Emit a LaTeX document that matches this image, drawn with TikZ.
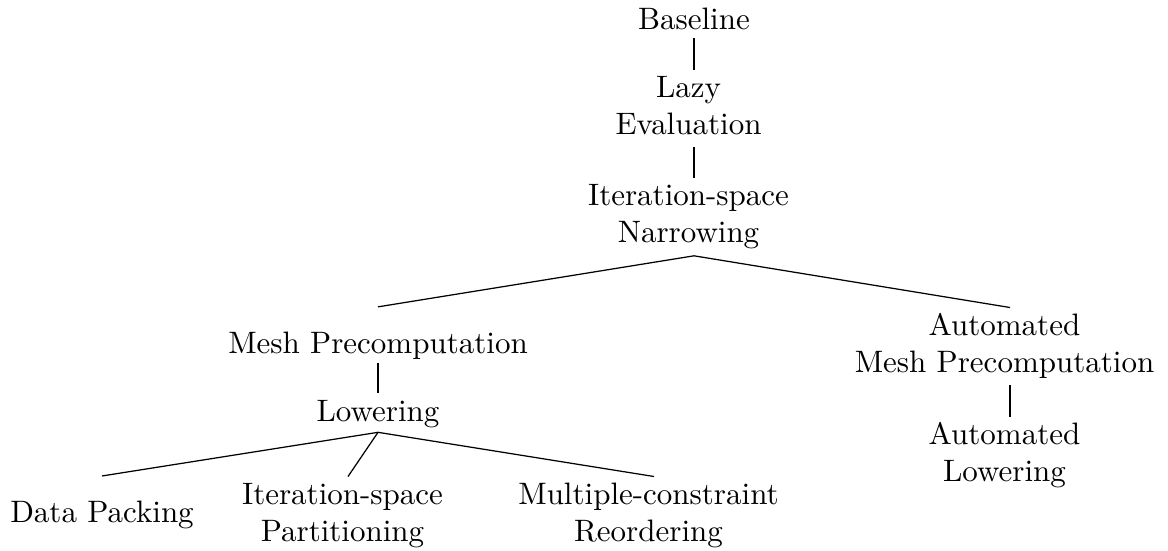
\documentclass[tikz,border=0pt]{standalone}
% two-line labels: centred stack with a little trailing space
\newcommand\twoline[1]{\begin{tabular}[t]{@{}c@{}}#1\end{tabular}\kern3.55pt}
\begin{document}
\begin{tikzpicture}[x=0.3226pt, y=-0.3226pt,
  every node/.style={inner xsep=0pt, inner ysep=0.35pt, font=\fontsize{10}{12}\selectfont},
  treeedge/.style={line width=0.4pt}]
\useasboundingbox (0,0) rectangle (1168,550);

% nodes
\node[anchor=base, text height=9.3pt, text depth=2.25pt] (base) at (694,29) {Baseline};
\node[anchor=north] (lazy) at (694,69.5) {\twoline{Lazy\\Evaluation}};
\node[anchor=north] (isn) at (694,178) {\twoline{Iteration-space\\Narrowing}};
\node[anchor=base, text height=14.5pt, text depth=2.4pt] (mp) at (378,353.5) {Mesh Precomputation};
\node[anchor=north] (amp) at (1010,307.5) {\twoline{Automated\\Mesh Precomputation}};
\node[anchor=base, text height=8.4pt, text depth=3.1pt] (low) at (378,421) {Lowering};
\node[anchor=north] (al) at (1010,416.5) {\twoline{Automated\\Lowering}};
\node[anchor=base, text height=14.3pt, text depth=2pt] (dp) at (102,522) {Data Packing};
\node[anchor=north] (isp) at (348,476.5) {\twoline{Iteration-space\\Partitioning}};
\node[anchor=north] (mcr) at (654,476.5) {\twoline{Multiple-constraint\\Reordering}};

% edges
\draw[treeedge] (base.south) -- (lazy.north);
\draw[treeedge] (lazy.south) -- (isn.north);
\draw[treeedge] (isn.south) -- (mp.north);
\draw[treeedge] (isn.south) -- (amp.north);
\draw[treeedge] (mp.south) -- (low.north);
\draw[treeedge] (amp.south) -- (al.north);
\draw[treeedge] (low.south) -- (dp.north);
\draw[treeedge] (low.south) -- (isp.north);
\draw[treeedge] (low.south) -- (mcr.north);
\end{tikzpicture}
\end{document}
